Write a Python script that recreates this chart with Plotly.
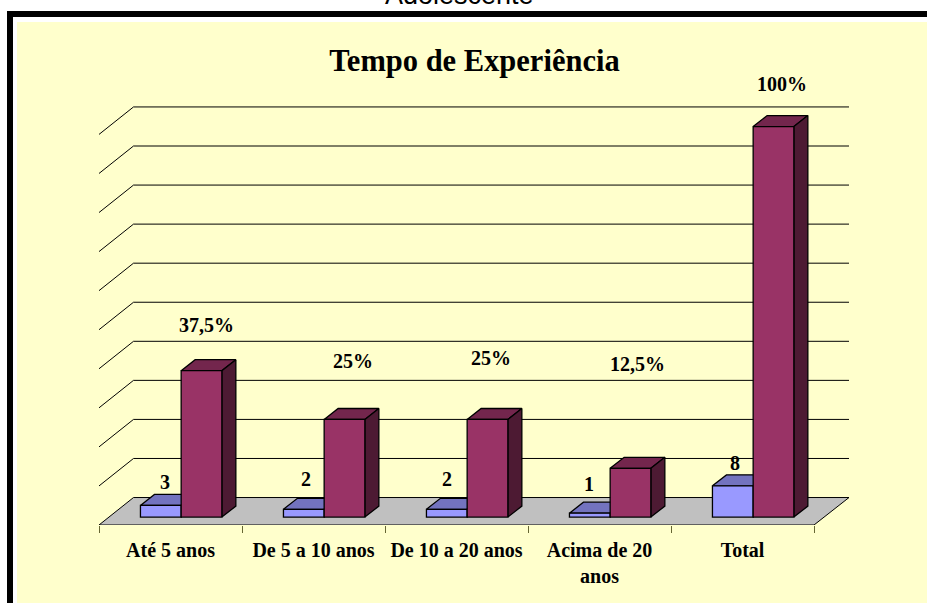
import plotly.graph_objects as go

# ---- data ----
categories = ["Até 5 anos", "De 5 a 10 anos", "De 10 a 20 anos", "Acima de 20<br>anos", "Total"]
counts = [3, 2, 2, 1, 8]
percents = [37.5, 25, 25, 12.5, 100]
count_labels = ["3", "2", "2", "1", "8"]
percent_labels = ["37,5%", "25%", "25%", "12,5%", "100%"]

# hand-placed data label offsets (data units, relative to each category / bar top)
count_dx = [-.038, -.052, -.066, -.073, -.052]
count_dy = [6.0, 7.8, 7.8, 7.5, 5.9]
pct_dx = [.255, .276, .241, .269, .276]
pct_dy = [11.7, 15.0, 15.7, 26.7, 10.8]

# ---- pseudo-3D geometry (in data units) ----
W, H = 927, 603
L, R, T, B = 99, 849, 60, 525.5       # plot area in page pixels
UX = 143.0                            # px per category
UY = 3.91                             # px per value unit
X0 = -0.5
X1 = X0 + (R - L) / UX
Y0 = -(525.5 - 517.6) / UY            # value 0 sits on the bars' front plane
Y1 = Y0 + (B - T) / UY
FLOOR_DX, FLOOR_DY = 34.5 / UX, 27.5 / UY
BAR_DX, BAR_DY = 14 / UX, 11 / UY
BAR_W = 40.7 / UX
GROUP_SHIFT = 10.65 / UX

YELLOW = "#FFFFCC"
FONT = "Liberation Serif"
LABEL_SIZE = 20

fig = go.Figure()
xs = list(range(len(categories)))


def poly(x, y, color, z, width=1.3):
    fig.add_trace(go.Scatter(x=x, y=y, mode="lines", fill="toself", fillcolor=color,
                             line=dict(color="black", width=width), cliponaxis=False,
                             hoverinfo="skip", showlegend=False, zorder=z))


# gridlines on the walls
gx, gy = [], []
xl, xr = X0, X0 + FLOOR_DX
right_end = X1
for k in range(1, 11):
    v = k * 10 + Y0 + FLOOR_DY
    gx += [xl, xr, right_end, None]
    gy += [v - FLOOR_DY, v, v, None]
fig.add_trace(go.Scatter(x=gx, y=gy, mode="lines", line=dict(color="#000000", width=1),
                         cliponaxis=False, hoverinfo="skip", showlegend=False, zorder=0))

# floor
n = len(categories)
poly([X0, X0 + n, X1, X0 + FLOOR_DX, X0],
     [Y0, Y0, Y0 + FLOOR_DY, Y0 + FLOOR_DY, Y0], "#C0C0C0", 1, width=1)


def bar_series(values, left_off, front, top, side, z):
    tx, ty, sx, sy = [], [], [], []
    for i, v in zip(xs, values):
        a = i + left_off
        b = a + BAR_W
        tx += [a, b, b + BAR_DX, a + BAR_DX, a, None]
        ty += [v, v, v + BAR_DY, v + BAR_DY, v, None]
        sx += [b, b + BAR_DX, b + BAR_DX, b, b, None]
        sy += [0, BAR_DY, v + BAR_DY, v, 0, None]
    poly(tx, ty, top, z)
    poly(sx, sy, side, z)
    fig.add_trace(go.Bar(x=xs, y=values, width=BAR_W, offset=left_off,
                         marker=dict(color=front, line=dict(color="black", width=1.3)),
                         hoverinfo="skip", showlegend=False, zorder=z + 1))


bar_series(counts, GROUP_SHIFT - BAR_W, "#9999FF", "#7373BF", "#4D4D80", 2)
bar_series(percents, GROUP_SHIFT, "#993366", "#73264D", "#4D1A33", 4)

annotations = []
for i, (t, v, dx, dy) in enumerate(zip(count_labels, counts, count_dx, count_dy)):
    annotations.append(dict(x=i + dx, y=v + dy, text=f"<b>{t}</b>", showarrow=False,
                            font=dict(family=FONT, size=LABEL_SIZE, color="black")))
for i, (t, v, dx, dy) in enumerate(zip(percent_labels, percents, pct_dx, pct_dy)):
    annotations.append(dict(x=i + dx, y=v + dy, text=f"<b>{t}</b>", showarrow=False,
                            font=dict(family=FONT, size=LABEL_SIZE, color="black")))
annotations.append(dict(xref="paper", yref="paper", x=(459.5 - L) / (R - L), y=(B - (-5.5)) / (B - T),
                        text="Adolescente", showarrow=False, yanchor="middle", xanchor="center",
                        font=dict(family="Liberation Sans", size=27, color="black")))


def frame(x0, y0, color):
    return dict(type="rect", xref="paper", yref="paper", layer="below", line_width=0,
                fillcolor=color, x0=(x0 - L) / (R - L), x1=(W + 5 - L) / (R - L),
                y0=(B - (H + 5)) / (B - T), y1=(B - y0) / (B - T))


fig.update_layout(
    width=W, height=H, autosize=False,
    margin=dict(l=L, r=W - R, t=T, b=H - B, pad=0),
    paper_bgcolor="white", plot_bgcolor="rgba(0,0,0,0)",
    barmode="overlay", showlegend=False,
    title=dict(text="<b>Tempo de Experiência</b>", x=474.5 / W, xanchor="center",
               y=1 - 60 / H, yanchor="middle",
               font=dict(family=FONT, size=30.5, color="black")),
    xaxis=dict(range=[X0, X1], tickmode="array", tickvals=xs, ticktext=[f"<b>{c}</b>" for c in categories],
               ticks="", showgrid=False, zeroline=False, showline=False, ticklabelstandoff=11,
               tickfont=dict(family=FONT, size=LABEL_SIZE, color="black"),
               minor=dict(tick0=-0.5, dtick=1, ticks="outside", ticklen=7, tickwidth=1,
                          tickcolor="#666633", showgrid=False)),
    yaxis=dict(range=[Y0, Y1], visible=False, showgrid=False, zeroline=False),
    shapes=[frame(7, 11, "black"), frame(13, 17, "white"), frame(17, 22, YELLOW)],
    annotations=annotations,
)

fig.write_html("out.html", config=dict(displayModeBar=False),
               post_script="document.body.style.margin='0';document.body.style.overflow='hidden';")
